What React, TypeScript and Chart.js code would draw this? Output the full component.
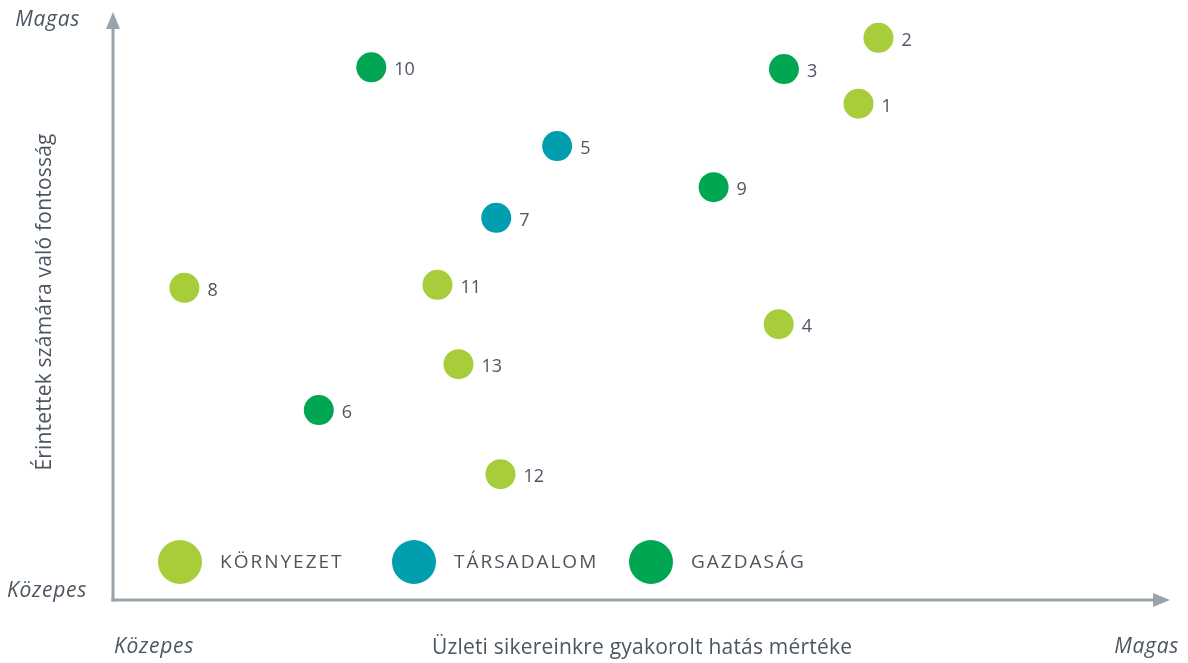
import React, { useEffect, useRef } from "react";
import { Chart, registerables } from "chart.js";

Chart.register(...registerables);

// Topic numbers and positions (x: business impact 0-100, y: stakeholder importance 0-100)
const envIds = [1, 2, 4, 8, 11, 12, 13];
const envX = [71.0, 72.9, 63.4, 6.8, 30.9, 36.9, 32.9];
const envY = [84.4, 95.6, 46.9, 53.1, 53.6, 21.4, 40.1];

const socIds = [5, 7];
const socX = [42.3, 36.5];
const socY = [77.2, 65.0];

const ecoIds = [3, 6, 9, 10];
const ecoX = [63.9, 19.6, 57.2, 24.6];
const ecoY = [90.3, 32.3, 70.2, 90.6];

const seriesNames = ["KÖRNYEZET", "TÁRSADALOM", "GAZDASÁG"];
const seriesColors = ["#A8CD3B", "#009EAE", "#00A651"];
const xTitle = "Üzleti sikereinkre gyakorolt hatás mértéke";
const yTitle = "Érintettek számára való fontosság";
const lowLabel = "Közepes";
const highLabel = "Magas";

const FONT = "'Open Sans', Lato, sans-serif";
const TEXT = "#4B5661";
const AXIS = "#98A4AA";

const toPoints = (xs: number[], ys: number[]) => xs.map((x, i) => ({ x, y: ys[i] }));
const idLists = [envIds, socIds, ecoIds];

const decorPlugin = {
  id: "decor",
  beforeDatasetsDraw(chart: any) {
    const { ctx, chartArea } = chart;
    const { left, right, top, bottom } = chartArea;
    ctx.save();
    ctx.strokeStyle = AXIS;
    ctx.fillStyle = AXIS;
    ctx.lineWidth = 3;
    // y axis
    ctx.beginPath();
    ctx.moveTo(left, bottom + 1.5);
    ctx.lineTo(left, top + 14);
    ctx.stroke();
    ctx.beginPath();
    ctx.moveTo(left, top);
    ctx.lineTo(left - 7, top + 17);
    ctx.lineTo(left + 7, top + 17);
    ctx.closePath();
    ctx.fill();
    // x axis
    ctx.beginPath();
    ctx.moveTo(left - 1.5, bottom);
    ctx.lineTo(right - 8, bottom);
    ctx.stroke();
    ctx.beginPath();
    ctx.moveTo(right + 7, bottom);
    ctx.lineTo(right - 10, bottom - 7);
    ctx.lineTo(right - 10, bottom + 7);
    ctx.closePath();
    ctx.fill();

    // axis end labels
    ctx.fillStyle = TEXT;
    ctx.font = `italic 21px ${FONT}`;
    (ctx as any).letterSpacing = "0.7px";
    ctx.textBaseline = "middle";
    ctx.textAlign = "right";
    ctx.fillText(highLabel, left - 33, top + 8);
    ctx.fillText(lowLabel, left - 26, bottom - 9);
    ctx.textAlign = "left";
    ctx.fillText(lowLabel, left + 1, bottom + 47);
    ctx.textAlign = "right";
    ctx.fillText(highLabel, right + 16, bottom + 47);

    // axis titles
    ctx.font = `21px ${FONT}`;
    (ctx as any).letterSpacing = "0.2px";
    ctx.textAlign = "center";
    ctx.fillText(xTitle, (left + right) / 2 + 4, bottom + 48);
    ctx.save();
    ctx.translate(left - 68, (top + bottom) / 2 - 4);
    ctx.rotate(-Math.PI / 2);
    ctx.fillText(yTitle, 0, 0);
    ctx.restore();

    // legend
    const lx = [left + 67, left + 301, left + 538];
    ctx.font = `19px ${FONT}`;
    (ctx as any).letterSpacing = "2px";
    ctx.textAlign = "left";
    seriesNames.forEach((name, i) => {
      ctx.fillStyle = seriesColors[i];
      ctx.beginPath();
      ctx.arc(lx[i], bottom - 38, 22, 0, Math.PI * 2);
      ctx.fill();
      ctx.fillStyle = TEXT;
      ctx.fillText(name, lx[i] + 40, bottom - 37);
    });
    ctx.restore();
  },
  afterDatasetsDraw(chart: any) {
    const { ctx } = chart;
    ctx.save();
    ctx.fillStyle = TEXT;
    ctx.font = `18px ${FONT}`;
    ctx.textAlign = "left";
    ctx.textBaseline = "middle";
    chart.data.datasets.forEach((ds: any, di: number) => {
      const meta = chart.getDatasetMeta(di);
      meta.data.forEach((el: any, i: number) => {
        ctx.fillText(String(idLists[di][i]), el.x + 23, el.y + 3);
      });
    });
    ctx.restore();
  },
};

export default function App() {
  const ref = useRef<HTMLCanvasElement | null>(null);
  useEffect(() => {
    if (!ref.current) return;
    const chart = new Chart(ref.current, {
      type: "scatter",
      data: {
        datasets: [
          { label: seriesNames[0], data: toPoints(envX, envY), backgroundColor: seriesColors[0], borderWidth: 0, pointRadius: 15 },
          { label: seriesNames[1], data: toPoints(socX, socY), backgroundColor: seriesColors[1], borderWidth: 0, pointRadius: 15 },
          { label: seriesNames[2], data: toPoints(ecoX, ecoY), backgroundColor: seriesColors[2], borderWidth: 0, pointRadius: 15 },
        ],
      },
      options: {
        animation: false,
        responsive: true,
        maintainAspectRatio: false,
        layout: { autoPadding: false, padding: { left: 105, right: 17, top: 4, bottom: 63 } },
        plugins: { legend: { display: false }, tooltip: { enabled: false } },
        scales: {
          x: { type: "linear", min: 0, max: 100, display: false },
          y: { type: "linear", min: 0, max: 100, display: false },
        },
      },
      plugins: [decorPlugin],
    });
    return () => chart.destroy();
  }, []);
  return (
    <div style={{ position: "relative", width: 1172, height: 655 }}>
      <canvas ref={ref} />
    </div>
  );
}
